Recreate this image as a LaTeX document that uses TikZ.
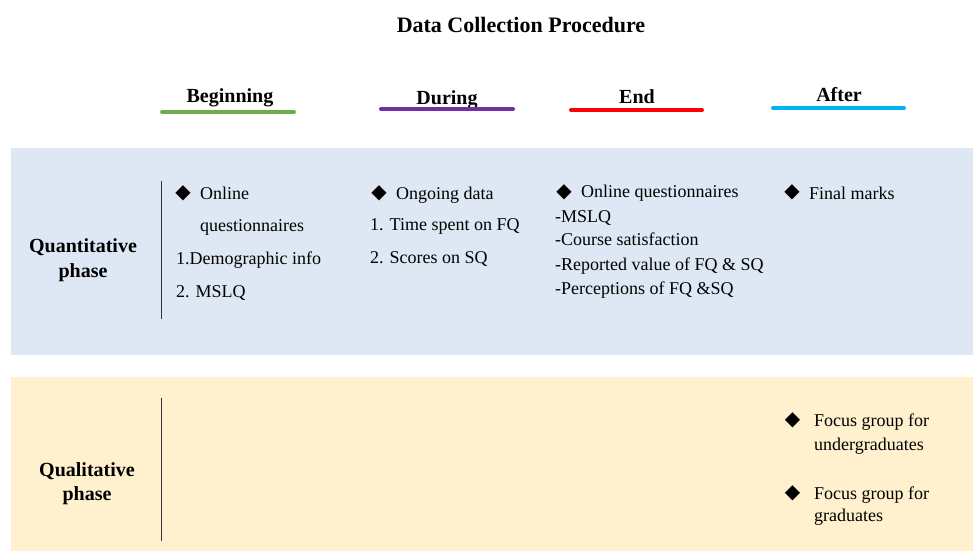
\documentclass[tikz,border=0pt]{standalone}
\usepackage{fontspec}
\setmainfont{Liberation Serif}
\newfontfamily\bodyfont{Liberation Serif}
\newfontfamily\symfont{DejaVu Sans}
\definecolor{quantbg}{HTML}{DEE8F5}
\definecolor{qualbg}{HTML}{FFF1CD}
\definecolor{begincol}{HTML}{70AD47}
\definecolor{duringcol}{HTML}{7030A0}
\definecolor{endcol}{HTML}{FF0000}
\definecolor{aftercol}{HTML}{00B0F0}
\begin{document}
\begin{tikzpicture}[x=1pt,y=-1pt,
  body/.style={anchor=base west, inner sep=0pt, font=\bodyfont\fontsize{18}{21}\selectfont},
  bullet/.style={anchor=center, inner sep=0pt, font=\symfont\fontsize{20}{22}\selectfont},
  head/.style={anchor=base, inner sep=0pt, font=\bodyfont\bfseries\fontsize{20}{24}\selectfont},
  phase/.style={anchor=base, inner sep=0pt, font=\bodyfont\bfseries\fontsize{20}{24}\selectfont},
  bar/.style={line width=4pt, line cap=round},
  divider/.style={line width=0.9pt, draw=black!80}]
\useasboundingbox (0,0) rectangle (973,551);

% panels
\fill[quantbg] (11,148) rectangle (973,355);
\fill[qualbg] (11,377) rectangle (973,551);

% title
\node[anchor=base, inner sep=0pt, font=\bodyfont\bfseries\fontsize{22}{26}\selectfont] (title) at (521,32.5) {Data Collection Procedure};

% column headers with coloured underlines
\node[head] (hbegin) at (230,102) {Beginning};
\node[head] (hduring) at (447,104) {During};
\node[head] (hend) at (637,103) {End};
\node[head] (hafter) at (839,101) {After};
\draw[bar, begincol] (162,112) coordinate (b1) -- (294,112) coordinate (b2);
\draw[bar, duringcol] (381,109) coordinate (d1) -- (513,109) coordinate (d2);
\draw[bar, endcol] (571,110) coordinate (e1) -- (702,110) coordinate (e2);
\draw[bar, aftercol] (773,108) coordinate (a1) -- (904,108) coordinate (a2);

% phase labels and dividers
\node[phase] (quant) at (83,252) {Quantitative};
\node[phase] (quant2) at (83,277) {phase};
\node[phase] (qual) at (87,476) {Qualitative};
\node[phase] (qual2) at (87,500) {phase};
\draw[divider] (161,181) coordinate (qt1) -- (161,319) coordinate (qt2);
\draw[divider] (161,398) coordinate (ql1) -- (161,541) coordinate (ql2);

% beginning column
\node[bullet] (bb) at (183,193.5) {◆};
\node[body] (b-l1) at (200,199) {Online};
\node[body] (b-l2) at (200,231.5) {questionnaires};
\node[body] (b-l3) at (176,264) {1.Demographic info};
\node[body] (b-l4) at (176,297) {2. MSLQ};

% during column
\node[bullet] (db) at (379,193.3) {◆};
\node[body] (d-l1) at (396,199) {Ongoing data};
\node[body] (d-l2) at (370,230) {1. Time spent on FQ};
\node[body] (d-l3) at (370,263) {2. Scores on SQ};

% end column
\node[bullet] (eb) at (564,192.8) {◆};
\node[body] (e-l1) at (581,197.3) {Online questionnaires};
\node[body] (e-l2) at (555,222) {-MSLQ};
\node[body] (e-l3) at (555,245.7) {-Course satisfaction};
\node[body] (e-l4) at (555,270.5) {-Reported value of FQ \& SQ};
\node[body] (e-l5) at (555,294) {-Perceptions of FQ \&SQ};

% after column
\node[bullet] (ab) at (792,192.8) {◆};
\node[body] (a-l1) at (809,199) {Final marks};

% qualitative phase, after column
\node[bullet] (fb1) at (792.5,420) {◆};
\node[body] (f1-l1) at (814,426) {Focus group for};
\node[body] (f1-l2) at (814,450) {undergraduates};
\node[bullet] (fb2) at (792.5,493.5) {◆};
\node[body] (f2-l1) at (814,499.5) {Focus group for};
\node[body] (f2-l2) at (814,521) {graduates};
\end{tikzpicture}
\end{document}
